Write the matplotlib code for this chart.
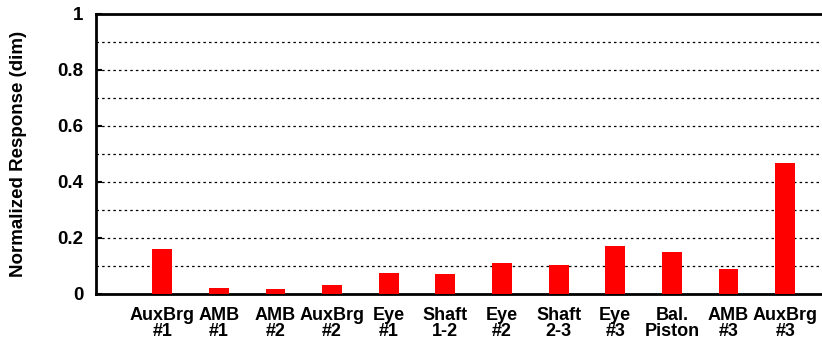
import matplotlib
matplotlib.use("Agg")
import matplotlib.pyplot as plt
from matplotlib.ticker import MultipleLocator

categories = ["AuxBrg\n#1", "AMB\n#1", "AMB\n#2", "AuxBrg\n#2", "Eye\n#1", "Shaft\n1-2",
              "Eye\n#2", "Shaft\n2-3", "Eye\n#3", "Bal.\nPiston", "AMB\n#3", "AuxBrg\n#3"]
response = [0.160, 0.022, 0.017, 0.032, 0.074, 0.073,
            0.110, 0.105, 0.173, 0.149, 0.090, 0.467]
yticks = [0, 0.2, 0.4, 0.6, 0.8, 1]
ytick_labels = ["0", "0.2", "0.4", "0.6", "0.8", "1"]

plt.rcParams["font.family"] = ["Liberation Sans", "DejaVu Sans"]
plt.rcParams["font.weight"] = "bold"

fig = plt.figure(figsize=(8.22, 3.42), dpi=100)
ax = fig.add_axes([96 / 822, 48 / 342, 1 - 96 / 822, 280 / 342])

x = list(range(len(categories)))
ax.bar(x, response, width=0.35, color="#ff0000", zorder=3)

ax.set_xlim(-1.17, 11.65)
ax.set_ylim(0, 1)
ax.set_yticks(yticks)
ax.set_yticklabels(ytick_labels, fontsize=13.5, fontweight="bold")
ax.yaxis.set_minor_locator(MultipleLocator(0.1))
ax.set_xticks(x)
ax.set_xticklabels(categories, fontsize=13, fontweight="bold", linespacing=0.95)
ax.tick_params(axis="x", length=0, pad=9)
ax.tick_params(axis="y", which="major", direction="in", length=4, width=1.5, pad=9)
ax.tick_params(axis="y", which="minor", length=0)

ax.grid(axis="y", which="both", color="black", linestyle=(0, (2, 2.5)), linewidth=0.9, zorder=1)

for side in ("left", "bottom", "top"):
    ax.spines[side].set_linewidth(2)
ax.spines["right"].set_visible(False)

ax.set_ylabel("Normalized Response (dim)", fontsize=13.5, fontweight="bold")
ax.yaxis.set_label_coords(-96 / 822 + 18 / 822, 0.5)

fig.savefig("out.png", dpi=100)
